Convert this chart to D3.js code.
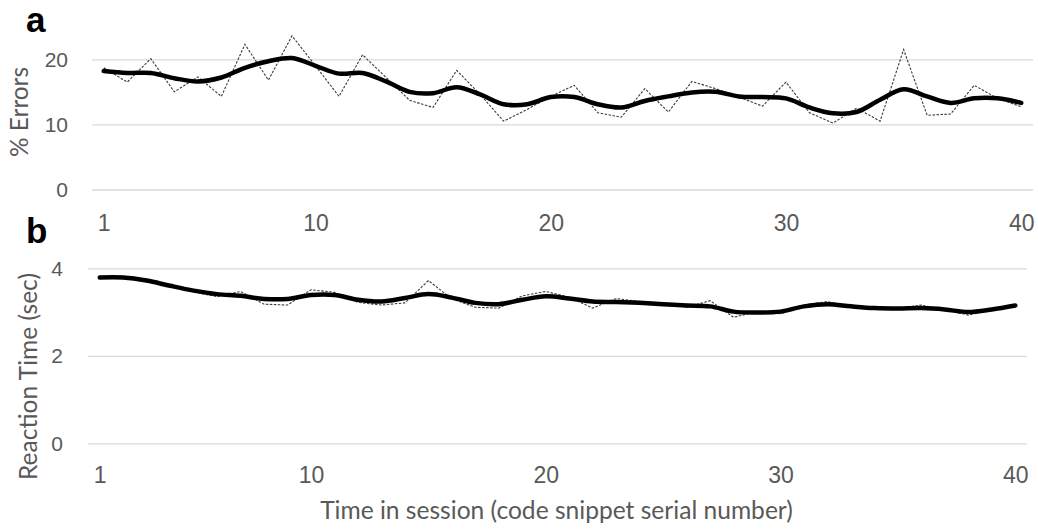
<!DOCTYPE html>
<html><head><meta charset="utf-8">
<script src="https://cdn.jsdelivr.net/npm/d3@7"></script>
<style>html,body{margin:0;padding:0;background:#fff;}svg{display:block;}</style>
</head><body>
<svg id="c" width="1038" height="529"></svg>
<script>
const sessions = d3.range(1, 41);
const xTickLabels = [1, 10, 20, 30, 40];
const errTicks = [0, 10, 20];
const rtTicks = [0, 2, 4];
const errorsRaw = [18.7,16.5,20.1,15.0,17.3,14.3,22.3,16.8,23.6,19.0,14.3,20.7,17.2,13.7,12.6,18.3,14.6,10.5,12.3,14.3,16.0,11.8,11.1,15.5,11.9,16.6,15.5,14.2,12.8,16.5,11.8,10.2,12.5,10.5,21.5,11.4,11.6,16.0,14.0,12.7];
const errorsSmooth = [18.2,17.9,17.9,17.1,16.6,17.2,18.7,19.7,20.2,19.0,17.8,17.9,16.6,15.0,14.8,15.7,14.6,13.1,13.1,14.2,14.2,13.1,12.6,13.6,14.3,14.9,15.0,14.3,14.2,14.0,12.6,11.7,11.9,13.8,15.4,14.3,13.3,14.0,14.0,13.3];
const rtRaw = [3.80,3.80,3.72,3.60,3.46,3.35,3.47,3.18,3.16,3.51,3.45,3.22,3.16,3.21,3.72,3.30,3.11,3.09,3.37,3.47,3.34,3.09,3.31,3.24,3.21,3.11,3.26,2.88,3.01,2.96,3.16,3.24,3.11,3.09,3.08,3.16,3.05,2.93,3.08,3.15];
const rtSmooth = [3.79,3.79,3.72,3.60,3.49,3.41,3.37,3.30,3.30,3.39,3.39,3.28,3.24,3.32,3.41,3.33,3.21,3.18,3.28,3.36,3.31,3.24,3.23,3.21,3.18,3.15,3.13,3.01,2.99,3.01,3.13,3.18,3.13,3.09,3.08,3.09,3.06,3.00,3.06,3.15];

const svg = d3.select("#c");
const gray = "#595959";

function fitText(sel, w) {
  const n = sel.node();
  const fs = parseFloat(sel.attr("font-size"));
  const len = n.getComputedTextLength();
  sel.attr("font-size", (fs * w / len).toFixed(2));
}

function panel(opts) {
  const x = d3.scalePoint().domain(sessions).range([opts.x0, opts.x1]).padding(0.5);
  const y = d3.scaleLinear().domain(opts.dom).range([opts.y0, opts.yTop]);
  const g = svg.append("g");
  const ya = d3.axisLeft(y).tickValues(opts.yticks).tickFormat(d3.format("d"))
    .tickSize(-(opts.x1 - opts.x0)).tickPadding(opts.yPad);
  const gy = g.append("g").attr("transform", `translate(${opts.x0},0)`).call(ya);
  gy.select(".domain").remove();
  gy.selectAll(".tick line").attr("stroke", "#d9d9d9").attr("stroke-width", 1.3);
  gy.selectAll(".tick text").attr("fill", gray).attr("font-family", "Liberation Sans, Arial, sans-serif").attr("font-size", 21);
  const xa = d3.axisBottom(x).tickValues(xTickLabels).tickSize(0).tickPadding(0);
  const gx = g.append("g").attr("transform", `translate(0,${opts.xLabelY})`).call(xa);
  gx.select(".domain").remove();
  gx.selectAll(".tick text").attr("fill", gray).attr("font-family", "Liberation Sans, Arial, sans-serif").attr("font-size", 23).attr("dy", 0);
  const lineRaw = d3.line().x((d, i) => x(sessions[i])).y(d => y(d));
  const lineSm = d3.line().x((d, i) => x(sessions[i])).y(d => y(d)).curve(d3.curveCatmullRom.alpha(0.5));
  g.append("path").datum(opts.raw).attr("d", lineRaw).attr("fill", "none")
    .attr("stroke", "#3a3a3a").attr("stroke-width", 1.1).attr("stroke-dasharray", "2.5,1.5");
  g.append("path").datum(opts.smooth).attr("d", lineSm).attr("fill", "none")
    .attr("stroke", "#000").attr("stroke-width", 4.5).attr("stroke-linejoin", "round").attr("stroke-linecap", "round");
  const t = g.append("text").attr("transform", `translate(${opts.titleX},${opts.titleY}) rotate(-90)`)
    .attr("text-anchor", "middle").attr("fill", gray).attr("font-family", "Lato, sans-serif").attr("font-size", 20)
    .text(opts.title);
  fitText(t, opts.titleW);
  svg.append("text").attr("x", 26).attr("y", opts.letterY).attr("font-family", "Liberation Sans, Arial, sans-serif")
    .attr("font-weight", "bold").attr("font-size", 35).attr("fill", "#000").text(opts.letter);
}

panel({x0: 92, x1: 1033, y0: 189.5, yTop: 59.3, dom: [0, 20], yticks: errTicks, yPad: 24,
  xLabelY: 231, raw: errorsRaw, smooth: errorsSmooth, title: "% Errors", titleX: 28, titleY: 112, titleW: 90,
  letter: "a", letterY: 32});
panel({x0: 88, x1: 1027, y0: 443.3, yTop: 268.3, dom: [0, 4], yticks: rtTicks, yPad: 25,
  xLabelY: 483, raw: rtRaw, smooth: rtSmooth, title: "Reaction Time (sec)", titleX: 37, titleY: 376.5, titleW: 207,
  letter: "b", letterY: 243});

const xt = svg.append("text").attr("x", 556.5).attr("y", 519).attr("text-anchor", "middle").attr("fill", gray)
  .attr("font-family", "Lato, sans-serif").attr("font-size", 24).text("Time in session (code snippet serial number)");
fitText(xt, 473);
</script>
</body></html>
